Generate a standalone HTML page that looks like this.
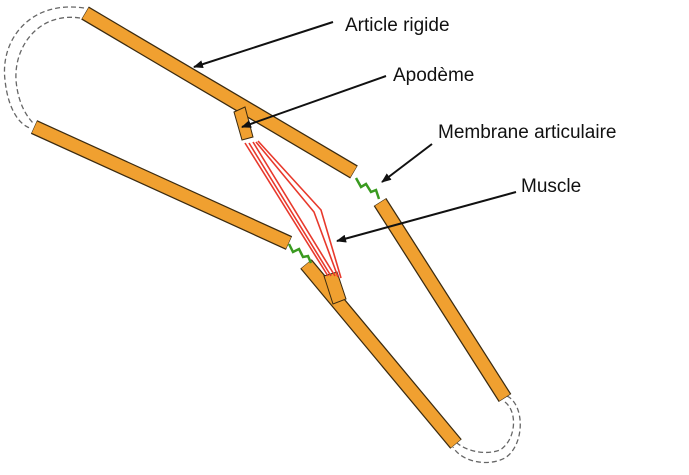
<!DOCTYPE html>
<html><head><meta charset="utf-8"><style>
body{margin:0;background:#fff;width:689px;height:470px;overflow:hidden}
text{font-family:"Liberation Sans",sans-serif;font-size:19px;fill:#111}
</style></head><body>
<svg width="689" height="470" viewBox="0 0 689 470">
<defs><marker id="ah" markerWidth="10" markerHeight="8" refX="9" refY="4" orient="auto" markerUnits="userSpaceOnUse"><path d="M0,0 L10,4 L0,8 z" fill="#111"/></marker></defs>
<g fill="none" stroke="#666" stroke-width="1.3" stroke-dasharray="5,3">
<path d="M84,8 C30,0 0,40 5,80 C8,110 20,125 30,128"/>
<path d="M80,18 C40,12 14,45 16,80 C18,105 28,118 34,124"/>
<path d="M507,396 C525,405 525,445 505,458 C485,468 460,460 453,447"/>
<path d="M505,402 C518,412 516,440 500,450 C484,456 465,450 457,443"/>
</g>
<g stroke="#3a2a10" stroke-width="15" stroke-linecap="butt">
<line x1="85" y1="13" x2="354" y2="172"/>
<line x1="34" y1="127" x2="289" y2="243"/>
<line x1="380" y1="202" x2="505" y2="398"/>
<line x1="306" y1="264" x2="456" y2="444"/>
</g>
<g stroke="#f0a030" stroke-width="12.5" stroke-linecap="butt">
<line x1="85.5" y1="13.3" x2="353.5" y2="171.7"/>
<line x1="34.5" y1="127.2" x2="288.5" y2="242.8"/>
<line x1="380.3" y1="202.5" x2="504.7" y2="397.5"/>
<line x1="306.3" y1="264.4" x2="455.7" y2="443.6"/>
</g>
<polygon points="234,112 245,107 253,137 242,140" fill="#f0a030" stroke="#3a2a10" stroke-width="1"/>
<polygon points="324,276 337,272 346,299 333,304" fill="#f0a030" stroke="#3a2a10" stroke-width="1"/>
<g stroke="#e8392c" stroke-width="1.6" fill="none">
<line x1="245" y1="143" x2="328" y2="276"/>
<line x1="249" y1="143" x2="331" y2="276"/>
<line x1="253" y1="142" x2="335" y2="276"/>
<path d="M256,142 L314,212 L338,277"/>
<path d="M258,141 L321,210 L341,278"/>
</g>
<g stroke="#3a9a20" stroke-width="2.5" fill="none">
<path d="M356,178 L361,187 L366,184 L371,192 L376,190 L379,199"/>
<path d="M289,244 L293,252 L299,249 L303,257 L308,256 L311,263"/>
</g>
<g stroke="#111" stroke-width="2" marker-end="url(#ah)">
<line x1="333" y1="22" x2="194" y2="67"/>
<line x1="386" y1="76" x2="242" y2="127"/>
<line x1="432" y1="144" x2="382" y2="182"/>
<line x1="516" y1="192" x2="337" y2="241"/>
</g>
<text x="345" y="31">Article rigide</text>
<text x="393" y="81">Apodème</text>
<text x="438" y="138">Membrane articulaire</text>
<text x="521" y="192">Muscle</text>
</svg>
</body></html>
